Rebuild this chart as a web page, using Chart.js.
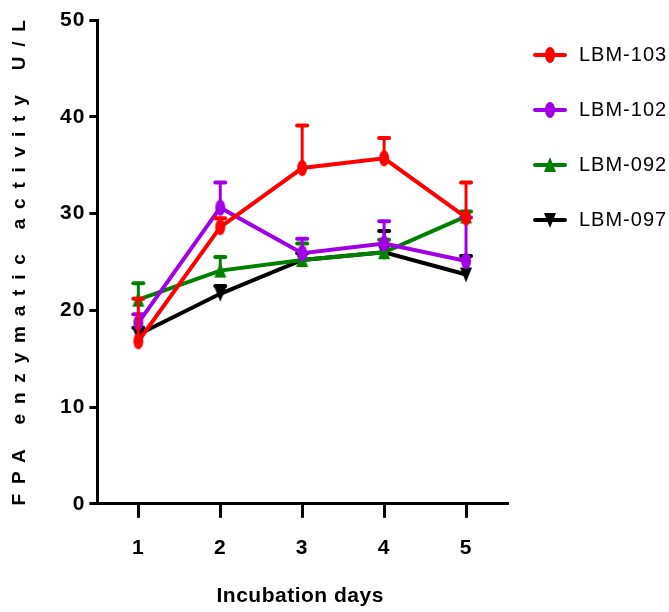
<!DOCTYPE html>
<html>
<head>
<meta charset="utf-8">
<script src="https://cdn.jsdelivr.net/npm/chart.js@4"></script>
<style>
  html, body { margin: 0; padding: 0; background: #fff; }
  #wrap { width: 669px; height: 612px; position: relative; }
</style>
</head>
<body>
<div id="wrap"><canvas id="chart"></canvas></div>
<script>
// Incubation days on x, FPA activity (U/L) on y, one line per strain.
const days = ['1', '2', '3', '4', '5'];
const yMin = 0, yMax = 50, yStep = 10;

const lbm103 = [16.8, 28.6, 34.7, 35.7, 29.6];
const lbm103Err = [21.2, 29.5, 39.1, 37.8, 33.2];
const lbm102 = [18.7, 30.6, 25.9, 26.9, 25.1];
const lbm102Err = [19.6, 33.2, 27.4, 29.2, 29.6];
const lbm092 = [21.1, 24.1, 25.2, 26.0, 29.7];
const lbm092Err = [22.8, 25.5, 26.9, 27.3, 30.2];
const lbm097 = [17.5, 21.7, 25.2, 26.0, 23.7];
const lbm097Err = [18.2, 22.5, 25.9, 28.2, 25.6];

const SANS = "'Liberation Sans', Arial, sans-serif";

// Marker sprites: tall ellipses and triangles like the original plot
function makeMarker(shape, color, withLine) {
    const w = withLine ? 38 : 16, h = 18;
    const c = document.createElement('canvas');
    c.width = w; c.height = h;
    const g = c.getContext('2d');
    g.fillStyle = color;
    g.strokeStyle = color;
    if (withLine) {
        g.lineWidth = 4;
        g.lineCap = 'round';
        g.beginPath(); g.moveTo(4, h / 2); g.lineTo(w - 4, h / 2); g.stroke();
    }
    const cx = w / 2, cy = h / 2;
    g.beginPath();
    if (shape === 'ellipse') {
        g.ellipse(cx, cy, 5, 8, 0, 0, Math.PI * 2);
    } else if (shape === 'up') {
        g.moveTo(cx, cy - 8); g.lineTo(cx + 6, cy + 7); g.lineTo(cx - 6, cy + 7);
    } else {
        g.moveTo(cx - 6, cy - 7); g.lineTo(cx + 6, cy - 7); g.lineTo(cx, cy + 8);
    }
    g.closePath();
    g.fill();
    return c;
}

const series = [
    { label: 'LBM-103', data: lbm103, err: lbm103Err, color: '#ff0000', shape: 'ellipse' },
    { label: 'LBM-102', data: lbm102, err: lbm102Err, color: '#a100e6', shape: 'ellipse' },
    { label: 'LBM-092', data: lbm092, err: lbm092Err, color: '#008000', shape: 'up' },
    { label: 'LBM-097', data: lbm097, err: lbm097Err, color: '#000000', shape: 'down' }
];

const datasets = series.map(s => ({
    label: s.label,
    data: s.data,
    errHigh: s.err,
    borderColor: s.color,
    backgroundColor: s.color,
    borderWidth: 4,
    tension: 0,
    pointStyle: makeMarker(s.shape, s.color, false),
    legendStyle: makeMarker(s.shape, s.color, true)
}));

// letter spacing for all canvas text (context resets on resize)
const spacingPlugin = {
    id: 'spacing',
    beforeUpdate(chart) { chart.ctx.letterSpacing = '1px'; },
    beforeDraw(chart) { chart.ctx.letterSpacing = '1px'; },
    // nudge the legend block so its rows sit where the original has them
    afterLayout(chart) {
        chart.legend.left -= 11;
        chart.legend.top -= 10;
    }
};

// upward-only error bars with a cap, drawn under each dataset's markers
const errorBars = {
    id: 'errorBars',
    beforeDatasetDraw(chart, args) {
        const ds = chart.data.datasets[args.index];
        const y = chart.scales.y;
        const ctx = chart.ctx;
        ctx.save();
        ctx.strokeStyle = ds.borderColor;
        ctx.lineCap = 'round';
        args.meta.data.forEach((pt, i) => {
            const top = y.getPixelForValue(ds.errHigh[i]);
            ctx.lineWidth = 3;
            ctx.beginPath(); ctx.moveTo(pt.x, pt.y); ctx.lineTo(pt.x, top); ctx.stroke();
            ctx.lineWidth = 4;
            ctx.beginPath(); ctx.moveTo(pt.x - 5, top); ctx.lineTo(pt.x + 5, top); ctx.stroke();
        });
        ctx.restore();
    }
};

// axis titles with the wide letter spacing of the original
const axisTitles = {
    id: 'axisTitles',
    afterDraw(chart) {
        const ctx = chart.ctx;
        const area = chart.chartArea;
        ctx.save();
        ctx.fillStyle = '#000';
        ctx.textAlign = 'center';
        ctx.textBaseline = 'middle';

        ctx.font = `bold 21px ${SANS}`;
        ctx.letterSpacing = '0.5px';
        ctx.fillText('Incubation days', (area.left + area.right) / 2 - 2, 596);

        ctx.translate(20, (area.top + area.bottom) / 2);
        ctx.rotate(-Math.PI / 2);
        ctx.font = `bold 19px ${SANS}`;
        ctx.letterSpacing = '9.8px';
        ctx.fillText('FPA enzymatic activity U/L', 4, 0);
        ctx.restore();
    }
};

new Chart(document.getElementById('chart'), {
    type: 'line',
    data: { labels: days, datasets },
    plugins: [spacingPlugin, errorBars, axisTitles],
    options: {
        responsive: true,
        maintainAspectRatio: false,
        animation: false,
        layout: { padding: { left: 56, top: 20, bottom: 33, right: 0 } },
        plugins: {
            tooltip: { enabled: false },
            legend: {
                position: 'right',
                align: 'start',
                maxWidth: 162,
                labels: {
                    usePointStyle: true,
                    pointStyleWidth: 38,
                    color: '#000',
                    padding: 35,
                    font: { family: SANS, size: 20 },
                    generateLabels: (chart) =>
                        Chart.defaults.plugins.legend.labels.generateLabels(chart).map(item => {
                            item.pointStyle = chart.data.datasets[item.datasetIndex].legendStyle;
                            return item;
                        })
                }
            }
        },
        scales: {
            x: {
                type: 'category',
                offset: true,
                grid: { display: true, drawOnChartArea: false, tickLength: 14, lineWidth: 3, color: '#000', offset: false },
                border: { display: true, width: 3, color: '#000' },
                ticks: { color: '#000', padding: 18, font: { family: SANS, size: 21, weight: 'bold' } }
            },
            y: {
                min: yMin,
                max: yMax,
                grid: { display: true, drawOnChartArea: false, tickLength: 8, lineWidth: 3, color: '#000' },
                border: { display: true, width: 3, color: '#000' },
                ticks: { stepSize: yStep, color: '#000', padding: 4, font: { family: SANS, size: 21, weight: 'bold' } }
            }
        }
    }
});
</script>
</body>
</html>
